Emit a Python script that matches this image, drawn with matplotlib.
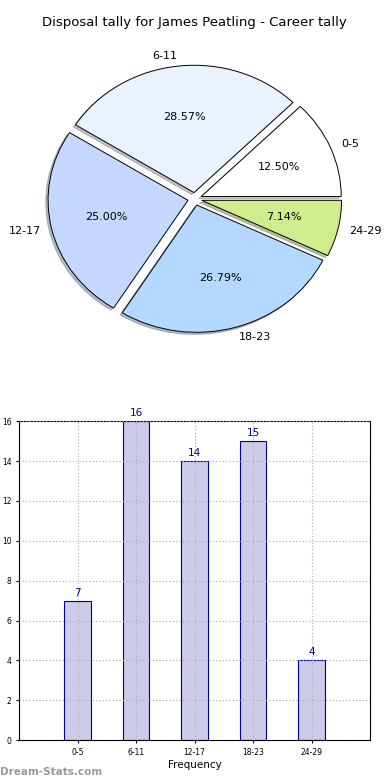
import numpy as np
import matplotlib
matplotlib.use('Agg')
import matplotlib.pyplot as plt

# data
categories = ['0-5', '6-11', '12-17', '18-23', '24-29']
counts = [7, 16, 14, 15, 4]
pie_colors = ['#ffffff', '#eaf2ff', '#c4d8ff', '#b4d8ff', '#d0ec8c']

fig = plt.figure(figsize=(3.9, 7.8), dpi=100)

# pie chart (elliptical like the original)
ax1 = fig.add_axes([0.051, 0.541, 0.897, 0.408])
wedges, texts, autotexts = ax1.pie(counts, labels=categories, colors=pie_colors,
                                   explode=[0.05] * len(counts),
                                   shadow={'ox': -0.012, 'oy': -0.012, 'shade': 0.45},
                                   startangle=0, autopct='%1.2f%%',
                                   labeldistance=1.08, pctdistance=0.6,
                                   wedgeprops={'edgecolor': 'black', 'linewidth': 0.7},
                                   textprops={'fontsize': 8})
ax1.set_aspect('auto')
ax1.set_xlim(-1.25, 1.25)
ax1.set_ylim(-1.25, 1.25)
ax1.set_title('Disposal tally for James Peatling - Career tally', fontsize=9.5, pad=10)

# bar chart
ax2 = fig.add_axes([0.049, 0.051, 0.9, 0.409])
x = np.arange(len(categories))
bars = ax2.bar(x, counts, width=0.45, color='#ccccea', edgecolor='#000099',
               linewidth=0.8, zorder=1)
for xi, v in zip(x, counts):
    ax2.text(xi, v + 0.15, str(v), ha='center', va='bottom', fontsize=7.5,
             color='#000080')
ax2.set_xlim(-1, 5)
ax2.set_ylim(0, 16)
ax2.set_xticks(x)
ax2.set_xticklabels(categories)
ax2.set_yticks(range(0, 17, 2))
ax2.tick_params(labelsize=5.5, length=2)
ax2.grid(True, linestyle=(0, (1, 2)), color='#aaaaaa', linewidth=0.8, zorder=3)
ax2.set_axisbelow(False)
ax2.set_xlabel('Frequency', fontsize=7.5, labelpad=2)
ax2.set_ylabel('Disposal tally', fontsize=7)
ax2.yaxis.set_label_coords(-0.062, 0.5)

fig.text(0.0, 0.004, 'Dream-Stats.com', fontsize=7.5, color='#999999',
         fontweight='bold', ha='left', va='bottom')

fig.savefig('out.png', dpi=100)
